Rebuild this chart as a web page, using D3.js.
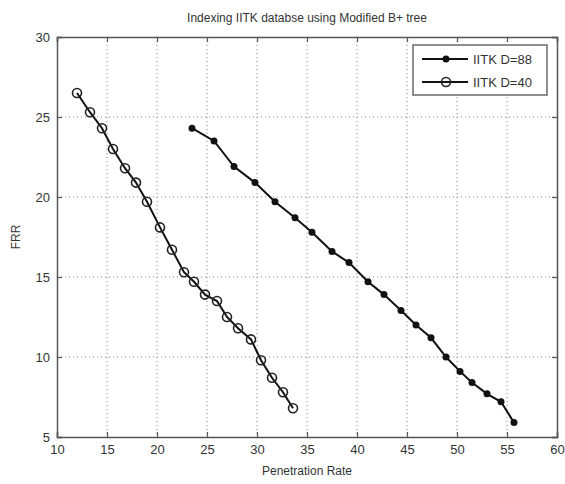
<!DOCTYPE html>
<html><head><meta charset="utf-8">
<script src="https://cdn.jsdelivr.net/npm/d3@7"></script>
<style>body{margin:0;background:#fff}svg{font-family:"Liberation Sans",Arial,sans-serif}</style>
</head><body><svg id="c" width="565" height="484"></svg>
<script>
const title = "Indexing IITK databse using Modified B+ tree";
const xLabel = "Penetration Rate";
const yLabel = "FRR";
const xTicks = [10,15,20,25,30,35,40,45,50,55,60];
const yTicks = [5,10,15,20,25,30];
const seriesNames = ["IITK D=88","IITK D=40"];
const d88x = [23.5,25.7,27.7,29.8,31.8,33.8,35.5,37.5,39.2,41.1,42.7,44.4,45.9,47.4,48.9,50.3,51.5,53.0,54.4,55.7];
const d88y = [24.3,23.5,21.9,20.9,19.7,18.7,17.8,16.6,15.9,14.7,13.9,12.9,12.0,11.2,10.0,9.1,8.4,7.7,7.2,5.9];
const d40x = [12.0,13.3,14.5,15.6,16.8,17.9,19.0,20.3,21.5,22.7,23.7,24.8,26.0,27.0,28.1,29.4,30.4,31.5,32.6,33.6];
const d40y = [26.5,25.3,24.3,23.0,21.8,20.9,19.7,18.1,16.7,15.3,14.7,13.9,13.5,12.5,11.8,11.1,9.8,8.7,7.8,6.8];

const L=57, R=557, T=37, B=437;
const svg = d3.select("#c");
const x = d3.scaleLinear().domain([10,60]).range([L,R]);
const y = d3.scaleLinear().domain([5,30]).range([B,T]);
const axCol = "#555";

// grid
const g = svg.append("g");
g.selectAll(".vg").data(xTicks.slice(1,-1)).enter().append("line")
  .attr("x1",d=>x(d)).attr("x2",d=>x(d)).attr("y1",T).attr("y2",B)
  .attr("stroke","#888").attr("stroke-width",1).attr("stroke-dasharray","1,3");
g.selectAll(".hg").data(yTicks.slice(1,-1)).enter().append("line")
  .attr("y1",d=>y(d)).attr("y2",d=>y(d)).attr("x1",L).attr("x2",R)
  .attr("stroke","#888").attr("stroke-width",1).attr("stroke-dasharray","1,3");

// axes (matlab-like inward ticks)
const tk = 5;
const xb = svg.append("g").attr("transform",`translate(0,${B})`)
  .call(d3.axisBottom(x).tickValues(xTicks).tickSize(-tk).tickPadding(8));
const xt = svg.append("g").attr("transform",`translate(0,${T})`)
  .call(d3.axisTop(x).tickValues(xTicks).tickSize(-tk).tickFormat(""));
const yl = svg.append("g").attr("transform",`translate(${L},0)`)
  .call(d3.axisLeft(y).tickValues(yTicks).tickSize(-tk).tickPadding(7));
const yr = svg.append("g").attr("transform",`translate(${R},0)`)
  .call(d3.axisRight(y).tickValues(yTicks).tickSize(-tk).tickFormat(""));
[xb,xt,yl,yr].forEach(a=>{
  a.select(".domain").attr("stroke",axCol).attr("stroke-width",1.5);
  a.selectAll(".tick line").attr("stroke",axCol).attr("stroke-width",1.2);
  a.selectAll(".tick text").attr("fill","#333").attr("font-size",13).attr("font-family","Liberation Sans, Arial, sans-serif");
});

// title & labels
svg.append("text").attr("x",(L+R)/2).attr("y",22).attr("text-anchor","middle")
  .attr("font-size",12).attr("fill","#333").text(title);
svg.append("text").attr("x",(L+R)/2).attr("y",475).attr("text-anchor","middle")
  .attr("font-size",12).attr("fill","#333").text(xLabel);
svg.append("text").attr("transform",`translate(20,${(T+B)/2}) rotate(-90)`).attr("text-anchor","middle")
  .attr("font-size",12).attr("fill","#333").text(yLabel);

const line = d3.line().x(d=>x(d[0])).y(d=>y(d[1]));
const s88 = d88x.map((v,i)=>[v,d88y[i]]);
const s40 = d40x.map((v,i)=>[v,d40y[i]]);

svg.append("path").datum(s88).attr("d",line).attr("fill","none").attr("stroke","#111").attr("stroke-width",2);
svg.selectAll(".p88").data(s88).enter().append("circle")
  .attr("cx",d=>x(d[0])).attr("cy",d=>y(d[1])).attr("r",3.5).attr("fill","#111");
svg.append("path").datum(s40).attr("d",line).attr("fill","none").attr("stroke","#111").attr("stroke-width",2);
svg.selectAll(".p40").data(s40).enter().append("circle")
  .attr("cx",d=>x(d[0])).attr("cy",d=>y(d[1])).attr("r",4.5).attr("fill","none")
  .attr("stroke","#222").attr("stroke-width",1.6);

// legend
const lg = svg.append("g");
lg.append("rect").attr("x",413).attr("y",45).attr("width",134).attr("height",50)
  .attr("fill","#fff").attr("stroke",axCol).attr("stroke-width",1.3);
const ly = [59,82];
seriesNames.forEach((n,i)=>{
  lg.append("line").attr("x1",422).attr("x2",468).attr("y1",ly[i]).attr("y2",ly[i])
    .attr("stroke","#111").attr("stroke-width",2);
  if(i===0) lg.append("circle").attr("cx",446).attr("cy",ly[i]).attr("r",3.5).attr("fill","#111");
  else lg.append("circle").attr("cx",446).attr("cy",ly[i]).attr("r",4.5).attr("fill","none").attr("stroke","#222").attr("stroke-width",1.6);
  lg.append("text").attr("x",473).attr("y",ly[i]+4.5).attr("font-size",13).attr("fill","#333").text(n);
});
</script></body></html>
